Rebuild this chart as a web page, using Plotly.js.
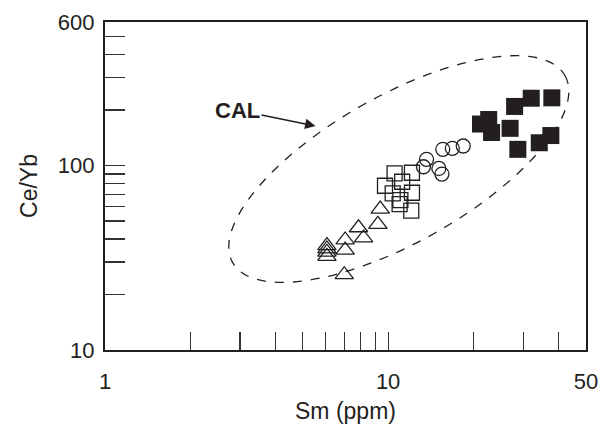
<!DOCTYPE html>
<html><head><meta charset="utf-8">
<script src="https://cdn.plot.ly/plotly-3.0.1.min.js"></script>
<style>html,body{margin:0;padding:0;background:#fff;}</style>
</head><body><div id="chart" style="width:603px;height:435px;"></div>
<script>
// Open triangles
const triSm   = [6.08, 6.08, 6.08, 6.08, 7.05, 7.05, 7.86, 8.19, 9.38, 9.2, 7.0];
const triCeYb = [36.8, 35.3, 33.9, 32.2, 39.5, 34.8, 46.0, 40.5, 58.1, 48.0, 25.6];
// Open squares
const sqSm    = [9.75, 10.54, 12.14, 11.21, 10.38, 12.14, 11.05, 12.07, 10.98];
const sqCeYb  = [77.7, 90.7, 91.4, 81.7, 70.7, 71.2, 65.0, 56.9, 61.8];
// Open circles
const ciSm    = [13.67, 13.33, 15.11, 15.49, 15.6, 16.86, 18.42];
const ciCeYb  = [108.1, 98.5, 96.5, 89.9, 122.4, 124.0, 127.6];
// Filled squares
const fsSm    = [21.2, 22.66, 23.2, 26.97, 27.98, 32.03, 37.87, 28.72, 34.19, 37.57];
const fsCeYb  = [167.9, 177.6, 151.0, 159.1, 209.1, 231.7, 232.8, 122.4, 132.9, 145.4];

const xTicks = [1,2,3,4,5,6,7,8,9,10,20,30,40,50];
const xTickText = ['1','','','','','','','','','10','','','','50'];
const yTicks = [10,20,30,40,50,60,70,80,90,100,200,300,400,500,600];
const yTickText = ['10','','','','','','','','','100','','','','','600'];

const ink = '#231f20';

// CAL field outline (decoration): ellipse in log10 units
const ellC = [1.0378, 1.981];
const ellA = [0.5868, 0.5073];
const ellB = [0.1276, -0.3469];
const k = 0.5523;
function pt(l){ return Math.pow(10,l[0]).toFixed(5)+','+Math.pow(10,l[1]).toFixed(5); }
function P(t){ return [ellC[0]+ellA[0]*Math.cos(t)+ellB[0]*Math.sin(t), ellC[1]+ellA[1]*Math.cos(t)+ellB[1]*Math.sin(t)]; }
function D(t){ return [-ellA[0]*Math.sin(t)+ellB[0]*Math.cos(t), -ellA[1]*Math.sin(t)+ellB[1]*Math.cos(t)]; }
let path = '';
for (let i=0;i<4;i++){
  const t0=i*Math.PI/2, t1=t0+Math.PI/2;
  const s=P(t0), e=P(t1), ds=D(t0), de=D(t1);
  if(i===0) path += 'M'+pt(s);
  path += ' C'+pt([s[0]+k*ds[0], s[1]+k*ds[1]])+' '+pt([e[0]-k*de[0], e[1]-k*de[1]])+' '+pt(e);
}
path += ' Z';

const traces = [
  {x: triSm, y: triCeYb, mode:'markers', type:'scatter',
   marker:{symbol:'triangle-up-open', size:16, color:ink, line:{width:1.3, color:ink}}},
  {x: sqSm, y: sqCeYb, mode:'markers', type:'scatter',
   marker:{symbol:'square-open', size:15, color:ink, line:{width:1.3, color:ink}}},
  {x: ciSm, y: ciCeYb, mode:'markers', type:'scatter',
   marker:{symbol:'circle-open', size:14, color:ink, line:{width:1.3, color:ink}}},
  {x: fsSm, y: fsCeYb, mode:'markers', type:'scatter',
   marker:{symbol:'square', size:17, color:ink, line:{width:0}}}
];

const layout = {
  width:603, height:435,
  margin:{l:105, r:17, t:22, b:85},
  paper_bgcolor:'#fff', plot_bgcolor:'#fff',
  showlegend:false,
  font:{family:'Liberation Sans, Arial, sans-serif', color:ink},
  xaxis:{type:'log', range:[0, Math.log10(50)], tickmode:'array', tickvals:xTicks, ticktext:xTickText,
    ticks:'inside', ticklen:18, tickwidth:1.2, tickcolor:'#333', showgrid:false, zeroline:false,
    showline:true, linecolor:ink, linewidth:2.2, mirror:true,
    tickfont:{size:22, color:ink}, ticklabelstandoff:10,
    title:{text:'Sm (ppm)', font:{size:23, color:ink}, standoff:10}},
  yaxis:{type:'log', range:[1, Math.log10(600)], tickmode:'array', tickvals:yTicks, ticktext:yTickText,
    ticks:'inside', ticklen:20, tickwidth:1.2, tickcolor:'#333', showgrid:false, zeroline:false,
    showline:true, linecolor:ink, linewidth:2.2, mirror:true,
    tickfont:{size:22, color:ink}, ticklabelstandoff:4,
    title:{text:'Ce/Yb', font:{size:23, color:ink}, standoff:14}},
  shapes:[{type:'path', xref:'x', yref:'y', path:path, line:{color:ink, width:1.3, dash:'dash'}}],
  annotations:[{x:Math.log10(5.54), y:Math.log10(163.8), xref:'x', yref:'y', text:'<b>CAL</b>',
    showarrow:true, ax:-78, ay:-16, arrowhead:2, arrowsize:1.3, arrowwidth:1.6, arrowcolor:ink,
    font:{size:22, color:ink, family:'Liberation Sans, Arial, sans-serif'}}]
};

Plotly.newPlot('chart', traces, layout, {staticPlot:true, displayModeBar:false});
</script></body></html>
